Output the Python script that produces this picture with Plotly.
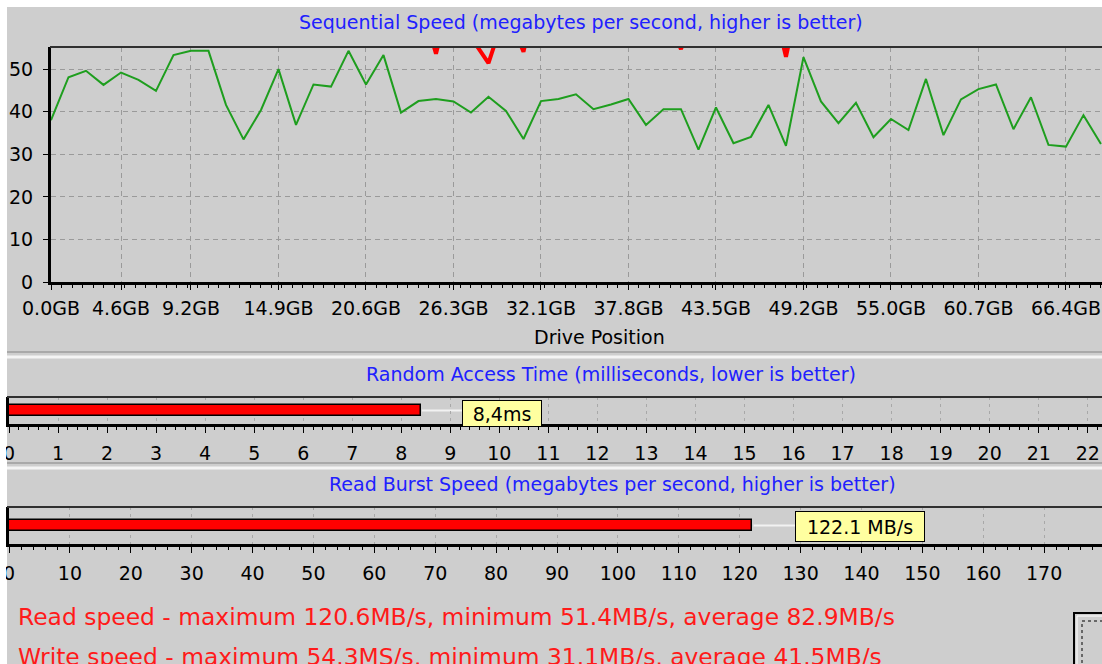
import plotly.graph_objects as go

W, H = 1102, 664


def fx(p):
    return p / W


def fy(p):
    return 1 - p / H


# ---------------- data ----------------
sample_index = list(range(61))
write_speed = [38.0, 48.1, 49.6, 46.3, 49.2, 47.5, 44.9, 53.3, 54.3, 54.3,
               41.6, 33.5, 40.4, 50.0, 36.9, 46.4, 45.9, 54.3, 46.4, 53.3,
               39.8, 42.5, 43.0, 42.4, 39.8, 43.5, 40.2, 33.6, 42.5, 43.0,
               44.1, 40.6, 41.7, 43.0, 36.9, 40.6, 40.6, 31.1, 41.0, 32.6,
               34.1, 41.6, 32.0, 52.8, 42.4, 37.3, 42.1, 34.0, 38.3, 35.7,
               47.7, 34.5, 42.9, 45.3, 46.4, 35.9, 43.4, 32.2, 31.8, 39.2,
               32.4]
read_speed = [118.0, 120.6, 117.0, 112.0, 115.0, 108.0, 110.0, 104.0, 106.0, 99.0,
              101.0, 95.0, 97.0, 92.0, 94.0, 89.0, 91.0, 86.0, 88.0, 84.0,
              80.0, 68.0, 53.6, 70.0, 57.5, 51.4, 64.0, 54.1, 72.0, 82.0,
              85.0, 83.0, 80.0, 84.0, 79.0, 64.0, 54.7, 66.0, 80.0, 82.0,
              75.0, 70.0, 52.9, 72.0, 78.0, 80.0, 77.0, 79.0, 75.0, 77.0,
              73.0, 75.0, 71.0, 73.0, 70.0, 72.0, 68.0, 70.0, 66.0, 68.0,
              64.0]
tick_index = [0, 4, 8, 13, 18, 23, 28, 33, 38, 43, 48, 53, 58]
tick_labels = ["0.0GB", "4.6GB", "9.2GB", "14.9GB", "20.6GB", "26.3GB", "32.1GB",
               "37.8GB", "43.5GB", "49.2GB", "55.0GB", "60.7GB", "66.4GB"]
speed_ticks = [0, 10, 20, 30, 40, 50]

access_ms = [8.4]
access_label = "8,4ms"
burst_mbs = [122.1]
burst_label = "122.1 MB/s"

title_seq = "Sequential Speed (megabytes per second, higher is better)"
title_access = "Random Access Time (milliseconds, lower is better)"
title_burst = "Read Burst Speed (megabytes per second, higher is better)"
read_summary = "Read speed - maximum 120.6MB/s, minimum 51.4MB/s, average 82.9MB/s"
write_summary = "Write speed - maximum 54.3MS/s, minimum 31.1MB/s, average 41.5MB/s"

# ---------------- style ----------------
BG = "#cecece"
FONT = "DejaVu Sans"
BLUE = "#2020ff"
RED = "#ff0000"
GRID = "#9a9a9a"

fig = go.Figure()

fig.add_trace(go.Scatter(x=sample_index, y=read_speed, mode="lines",
                         line=dict(color=RED, width=4), xaxis="x", yaxis="y",
                         showlegend=False, hoverinfo="skip"))
fig.add_trace(go.Scatter(x=sample_index, y=write_speed, mode="lines",
                         line=dict(color="#1e9e1e", width=2), xaxis="x", yaxis="y",
                         showlegend=False))

fig.add_trace(go.Bar(x=access_ms, y=[0], orientation="h", width=0.8,
                     marker=dict(color=RED, line=dict(color="black", width=1.5)),
                     xaxis="x2", yaxis="y2", showlegend=False))
fig.add_trace(go.Bar(x=burst_mbs, y=[0], orientation="h", width=0.6,
                     marker=dict(color=RED, line=dict(color="black", width=1.5)),
                     xaxis="x3", yaxis="y3", showlegend=False))

tickfont = dict(family=FONT, size=19, color="black")

layout = dict(
    template="none",
    width=W, height=H,
    margin=dict(l=0, r=0, t=0, b=0, pad=0, autoexpand=False),
    paper_bgcolor="white",
    plot_bgcolor="rgba(0,0,0,0)",
    showlegend=False,
    bargap=0,
    xaxis=dict(domain=[fx(51), 1.0], range=[0, 60.06], tickvals=tick_index,
               ticktext=tick_labels, tickfont=tickfont, showline=True,
               linewidth=3, linecolor="black", ticks="outside", ticklen=5,
               tickcolor="black", ticklabelstandoff=2, automargin=False,
               showgrid=True, gridcolor=GRID, griddash="5px,4px", gridwidth=1,
               zeroline=False, fixedrange=True,
               minor=dict(ticks="outside", ticklen=3, dtick=0.6, tick0=0,
                          tickcolor="black", showgrid=False)),
    yaxis=dict(domain=[fy(282), fy(47)], range=[0, 55.2], tickvals=speed_ticks,
               tickfont=tickfont, showline=True, linewidth=3, linecolor="black",
               ticks="outside", ticklen=5, tickcolor="black", ticklabelstandoff=6,
               showgrid=True, gridcolor=GRID, griddash="5px,4px", gridwidth=1,
               zeroline=False, fixedrange=True, automargin=False),
    xaxis2=dict(domain=[fx(9), 1.0], range=[0, 22.29], anchor="y2", dtick=1,
                tickfont=tickfont, showline=True, linewidth=3, linecolor="black",
                ticks="outside", ticklen=6, tickcolor="black", ticklabelstandoff=4,
                showgrid=True, gridcolor="#a8a8a8", griddash="3px,4px",
                zeroline=False, fixedrange=True, automargin=False,
                minor=dict(ticks="outside", ticklen=3, dtick=0.2, tick0=0,
                           tickcolor="black", showgrid=False)),
    yaxis2=dict(domain=[fy(424), fy(397)], range=[-1, 1], anchor="x2",
                showticklabels=False, showgrid=False, zeroline=False, automargin=False,
                showline=True, linewidth=3, linecolor="black", fixedrange=True),
    xaxis3=dict(domain=[fx(9), 1.0], range=[0, 179.5], anchor="y3", dtick=10,
                tickfont=tickfont, showline=True, linewidth=3, linecolor="black",
                ticks="outside", ticklen=6, tickcolor="black", ticklabelstandoff=4,
                showgrid=True, gridcolor="#a8a8a8", griddash="3px,4px",
                zeroline=False, fixedrange=True, automargin=False,
                minor=dict(ticks="outside", ticklen=3, dtick=2, tick0=0,
                           tickcolor="black", showgrid=False)),
    yaxis3=dict(domain=[fy(544), fy(507)], range=[-1, 1], anchor="x3",
                showticklabels=False, showgrid=False, zeroline=False, automargin=False,
                showline=True, linewidth=3, linecolor="black", fixedrange=True),
)
fig.update_layout(**layout)

shapes = [
    # grey window panel
    dict(type="rect", xref="paper", yref="paper", x0=fx(7), x1=1.0, y0=0, y1=fy(7),
         fillcolor=BG, line=dict(width=0), layer="below"),
    # panel separators (sunken)
    dict(type="line", xref="paper", yref="paper", x0=fx(7), x1=1.0, y0=fy(352), y1=fy(352),
         line=dict(color="#a9a9a9", width=2), layer="below"),
    dict(type="line", xref="paper", yref="paper", x0=fx(7), x1=1.0, y0=fy(357), y1=fy(357),
         line=dict(color="#f4f4f4", width=3), layer="below"),
    dict(type="line", xref="paper", yref="paper", x0=fx(7), x1=1.0, y0=fy(463), y1=fy(463),
         line=dict(color="#a9a9a9", width=2), layer="below"),
    dict(type="line", xref="paper", yref="paper", x0=fx(7), x1=1.0, y0=fy(468), y1=fy(468),
         line=dict(color="#f4f4f4", width=3), layer="below"),
    # top borders of plot boxes
    dict(type="line", xref="paper", yref="paper", x0=fx(50), x1=1.0, y0=fy(47), y1=fy(47),
         line=dict(color="#303030", width=2)),
    dict(type="line", xref="paper", yref="paper", x0=fx(7), x1=1.0, y0=fy(397), y1=fy(397),
         line=dict(color="#303030", width=2)),
    dict(type="line", xref="paper", yref="paper", x0=fx(7), x1=1.0, y0=fy(507), y1=fy(507),
         line=dict(color="#303030", width=2)),
    # leader lines from bars to value labels
    dict(type="line", xref="x2", yref="y2", xsizemode="pixel", xanchor=access_ms[0],
         x0=1, x1=44, y0=0, y1=0, line=dict(color="#f2f2f2", width=2), layer="below"),
    dict(type="line", xref="x3", yref="y3", xsizemode="pixel", xanchor=burst_mbs[0],
         x0=1, x1=44, y0=0, y1=0, line=dict(color="#f2f2f2", width=2), layer="below"),
    # partially visible button at bottom right
    dict(type="rect", xref="paper", yref="paper", x0=fx(1074), x1=fx(1110),
         y0=fy(670), y1=fy(613), fillcolor=BG, line=dict(color="black", width=2)),
    dict(type="rect", xref="paper", yref="paper", x0=fx(1077), x1=fx(1110),
         y0=fy(670), y1=fy(616), fillcolor="rgba(0,0,0,0)",
         line=dict(color="white", width=1)),
    dict(type="rect", xref="paper", yref="paper", x0=fx(1082), x1=fx(1110),
         y0=fy(670), y1=fy(621), fillcolor="rgba(0,0,0,0)",
         line=dict(color="black", width=1, dash="dot")),
    # white window margin on the left (clips the first tick labels like the original)
    dict(type="rect", xref="paper", yref="paper", x0=0, x1=fx(6), y0=0, y1=1,
         fillcolor="white", line=dict(width=0), layer="above"),
]
fig.update_layout(shapes=shapes)

annotations = [
    dict(text=title_seq, xref="paper", yref="paper", x=fx(581), y=fy(22),
         xanchor="center", yanchor="middle", showarrow=False,
         font=dict(family=FONT, size=19, color=BLUE)),
    dict(text="Drive Position", xref="paper", yref="paper", x=fx(599), y=fy(337),
         xanchor="center", yanchor="middle", showarrow=False,
         font=dict(family=FONT, size=19, color="black")),
    dict(text=title_access, xref="paper", yref="paper", x=fx(611), y=fy(374),
         xanchor="center", yanchor="middle", showarrow=False,
         font=dict(family=FONT, size=19, color=BLUE)),
    dict(text=title_burst, xref="paper", yref="paper", x=fx(612), y=fy(484),
         xanchor="center", yanchor="middle", showarrow=False,
         font=dict(family=FONT, size=19, color=BLUE)),
    dict(text=access_label, xref="x2", yref="paper", x=access_ms[0], xshift=41,
         y=fy(413), xanchor="left", yanchor="middle", showarrow=False,
         bgcolor="#ffffa0", bordercolor="black", borderwidth=1, borderpad=1,
         width=76, height=23, align="center",
         font=dict(family=FONT, size=19, color="black")),
    dict(text=burst_label, xref="x3", yref="paper", x=burst_mbs[0], xshift=43,
         y=fy(526), xanchor="left", yanchor="middle", showarrow=False,
         bgcolor="#ffffa0", bordercolor="black", borderwidth=1, borderpad=1,
         width=126, height=27, align="center",
         font=dict(family=FONT, size=19, color="black")),
    dict(text=read_summary, xref="paper", yref="paper", x=fx(16), y=fy(617),
         xanchor="left", yanchor="middle", showarrow=False,
         font=dict(family=FONT, size=23.4, color="#ff1a1a")),
    dict(text=write_summary, xref="paper", yref="paper", x=fx(16), y=fy(657),
         xanchor="left", yanchor="middle", showarrow=False,
         font=dict(family=FONT, size=23.4, color="#ff1a1a")),
]
fig.update_layout(annotations=annotations)

fig.write_html("out.html", config={"displayModeBar": False},
               post_script="document.body.style.margin='0';")
